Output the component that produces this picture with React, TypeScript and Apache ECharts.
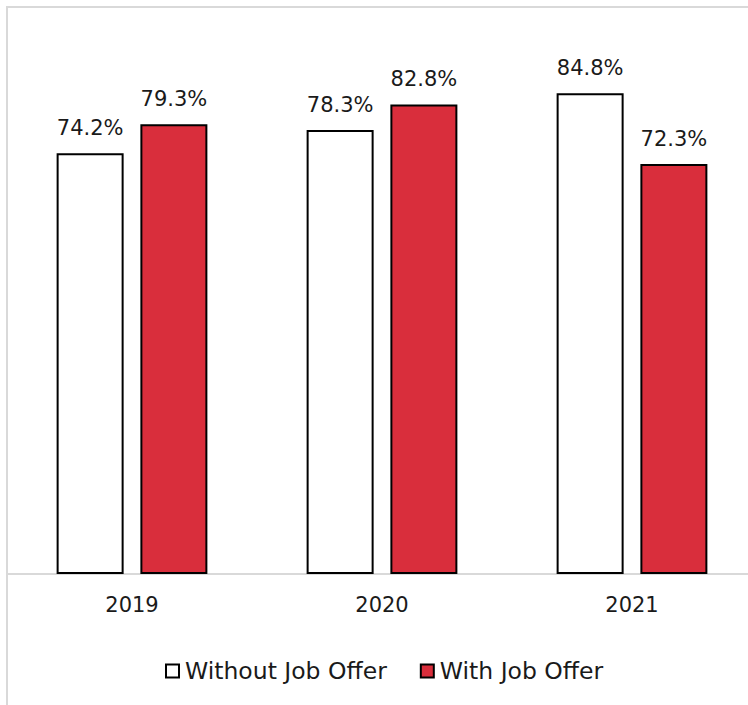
import React, { useEffect, useRef } from "react";
import * as echarts from "echarts";

const categories = ["2019", "2020", "2021"];
const withoutOffer = [74.2, 78.3, 84.8];
const withOffer = [79.3, 82.8, 72.3];
const seriesNames = ["Without Job Offer", "With Job Offer"];

const FONT = "DejaVu Sans";
const TEXT = "#1a1a1a";

export default function App() {
  const ref = useRef<HTMLDivElement>(null);
  useEffect(() => {
    if (!ref.current) return;
    const chart = echarts.init(ref.current, null, { renderer: "svg" });
    const label = {
      show: true,
      position: "top",
      distance: 15,
      color: TEXT,
      fontFamily: FONT,
      fontSize: 21,
      formatter: (p: any) => p.value.toFixed(1) + "%",
    };
    chart.setOption({
      animation: false,
      backgroundColor: "#ffffff",
      graphic: [
        {
          type: "rect",
          shape: { x: 7, y: 7, width: 780, height: 720 },
          style: { fill: "none", stroke: "#d9d9d9", lineWidth: 2 },
          silent: true,
          z: -1,
        },
      ],
      legend: {
        bottom: 17,
        left: 160,
        itemWidth: 13,
        itemHeight: 13,
        itemGap: 33,
        icon: "rect",
        textStyle: { fontFamily: FONT, fontSize: 23.5, color: TEXT, padding: [0, 0, 0, 1] },
        data: seriesNames,
      },
      grid: { left: 7, width: 750, top: 7, bottom: 131 },
      xAxis: {
        type: "category",
        data: categories,
        axisLine: { lineStyle: { color: "#d9d9d9", width: 2 } },
        axisTick: { show: false },
        axisLabel: { margin: 20, fontFamily: FONT, fontSize: 21, color: TEXT },
      },
      yAxis: {
        type: "value",
        min: 0,
        max: 100,
        show: false,
        splitLine: { show: false },
      },
      series: [
        {
          name: seriesNames[0],
          type: "bar",
          data: withoutOffer,
          barWidth: 67,
          barGap: "25%",
          itemStyle: { color: "#ffffff", borderColor: "#000000", borderWidth: 2 },
          label,
        },
        {
          name: seriesNames[1],
          type: "bar",
          data: withOffer,
          barWidth: 67,
          itemStyle: { color: "#d92e3c", borderColor: "#000000", borderWidth: 2 },
          label,
        },
      ],
    });
    return () => chart.dispose();
  }, []);
  return (
    <div
      style={{ position: "absolute", left: 0, top: 0, width: 748, height: 705, overflow: "hidden" }}
    >
      <div ref={ref} style={{ width: 780, height: 705 }} />
    </div>
  );
}
